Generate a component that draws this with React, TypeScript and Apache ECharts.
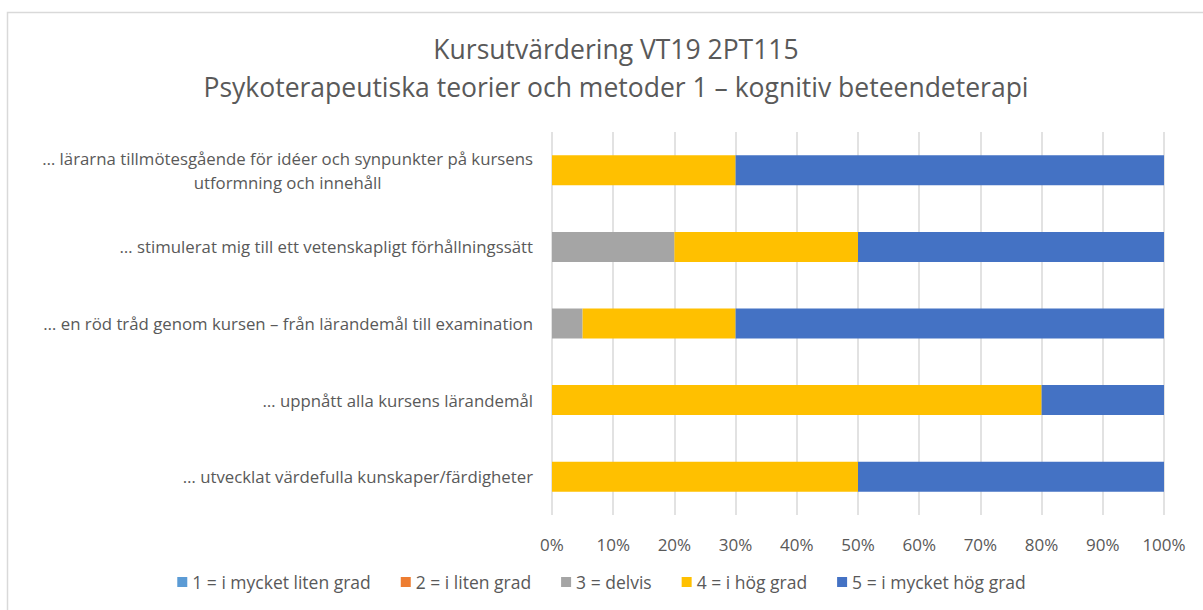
import React, { useEffect, useRef } from "react";
import * as echarts from "echarts";

const categories: string[] = [
  "… lärarna tillmötesgående för idéer och synpunkter på kursens\nutformning och innehåll",
  "… stimulerat mig till ett vetenskapligt förhållningssätt",
  "… en röd tråd genom kursen – från lärandemål till examination",
  "… uppnått alla kursens lärandemål",
  "… utvecklat värdefulla kunskaper/färdigheter",
];

const seriesNames: string[] = [
  "1 = i mycket liten grad",
  "2 = i liten grad",
  "3 = delvis",
  "4 = i hög grad",
  "5 = i mycket hög grad",
];

const s1: number[] = [0, 0, 0, 0, 0];
const s2: number[] = [0, 0, 0, 0, 0];
const s3: number[] = [0, 20, 5, 0, 0];
const s4: number[] = [30, 30, 25, 80, 50];
const s5: number[] = [70, 50, 70, 20, 50];

const colors: string[] = ["#5B9BD5", "#ED7D31", "#A5A5A5", "#FFC000", "#4472C4"];

const xTicks = { min: 0, max: 100, interval: 10 };

const FONT = "'Open Sans', Lato, sans-serif";

export default function App() {
  const ref = useRef<HTMLDivElement>(null);
  useEffect(() => {
    if (!ref.current) return;
    const chart = echarts.init(ref.current, null, { renderer: "svg" });
    const data = [s1, s2, s3, s4, s5];
    chart.setOption({
      animation: false,
      backgroundColor: "#ffffff",
      color: colors,
      textStyle: { fontFamily: FONT },
      title: {
        text: "Kursutvärdering VT19 2PT115\nPsykoterapeutiska teorier och metoder 1 – kognitiv beteendeterapi",
        left: 611,
        top: 25,
        textAlign: "center",
        textStyle: {
          fontFamily: FONT,
          fontSize: 26.5,
          fontWeight: "normal",
          color: "#595959",
          lineHeight: 38,
        },
      },
      graphic: [
        {
          type: "rect",
          shape: { x: 7.5, y: 12.5, width: 1300, height: 700 },
          style: { fill: "none", stroke: "#d9d9d9", lineWidth: 1.5 },
          silent: true,
        },
      ],
      legend: {
        bottom: 14,
        left: "center",
        width: 1180,
        padding: [5, 5, 5, 29],
        itemWidth: 10,
        itemHeight: 10,
        itemGap: 30,
        icon: "rect",
        textStyle: { fontFamily: FONT, fontSize: 17.5, color: "#595959" },
        data: seriesNames,
      },
      grid: { left: 552, right: 39, top: 132, bottom: 95 },
      xAxis: {
        type: "value",
        min: xTicks.min,
        max: xTicks.max,
        interval: xTicks.interval,
        axisLine: { show: false },
        axisTick: { show: false },
        axisLabel: {
          formatter: "{value}%",
          fontFamily: FONT,
          fontSize: 17,
          color: "#595959",
          margin: 21,
        },
        splitLine: { show: true, lineStyle: { color: "#d9d9d9", width: 1.5 } },
      },
      yAxis: {
        type: "category",
        inverse: true,
        data: categories,
        axisLine: { show: false },
        axisTick: { show: false },
        axisLabel: {
          margin: 19,
          fontFamily: FONT,
          fontSize: 16.8,
          color: "#595959",
          lineHeight: 24,
          formatter: (v: string) =>
            v
              .split("\n")
              .map((l) => "{c|" + l + "}")
              .join("\n"),
          rich: {
            c: {
              align: "center",
              fontFamily: FONT,
              fontSize: 16.8,
              color: "#595959",
              lineHeight: 24,
            },
          },
        },
      },
      series: seriesNames.map((name, i) => ({
        name,
        type: "bar",
        stack: "total",
        barWidth: 30,
        data: data[i],
        itemStyle: { color: colors[i] },
      })),
    });
    return () => chart.dispose();
  }, []);
  return (
    <div
      ref={ref}
      style={{ position: "absolute", left: 0, top: 0, width: 1203, height: 610, background: "#fff" }}
    />
  );
}
